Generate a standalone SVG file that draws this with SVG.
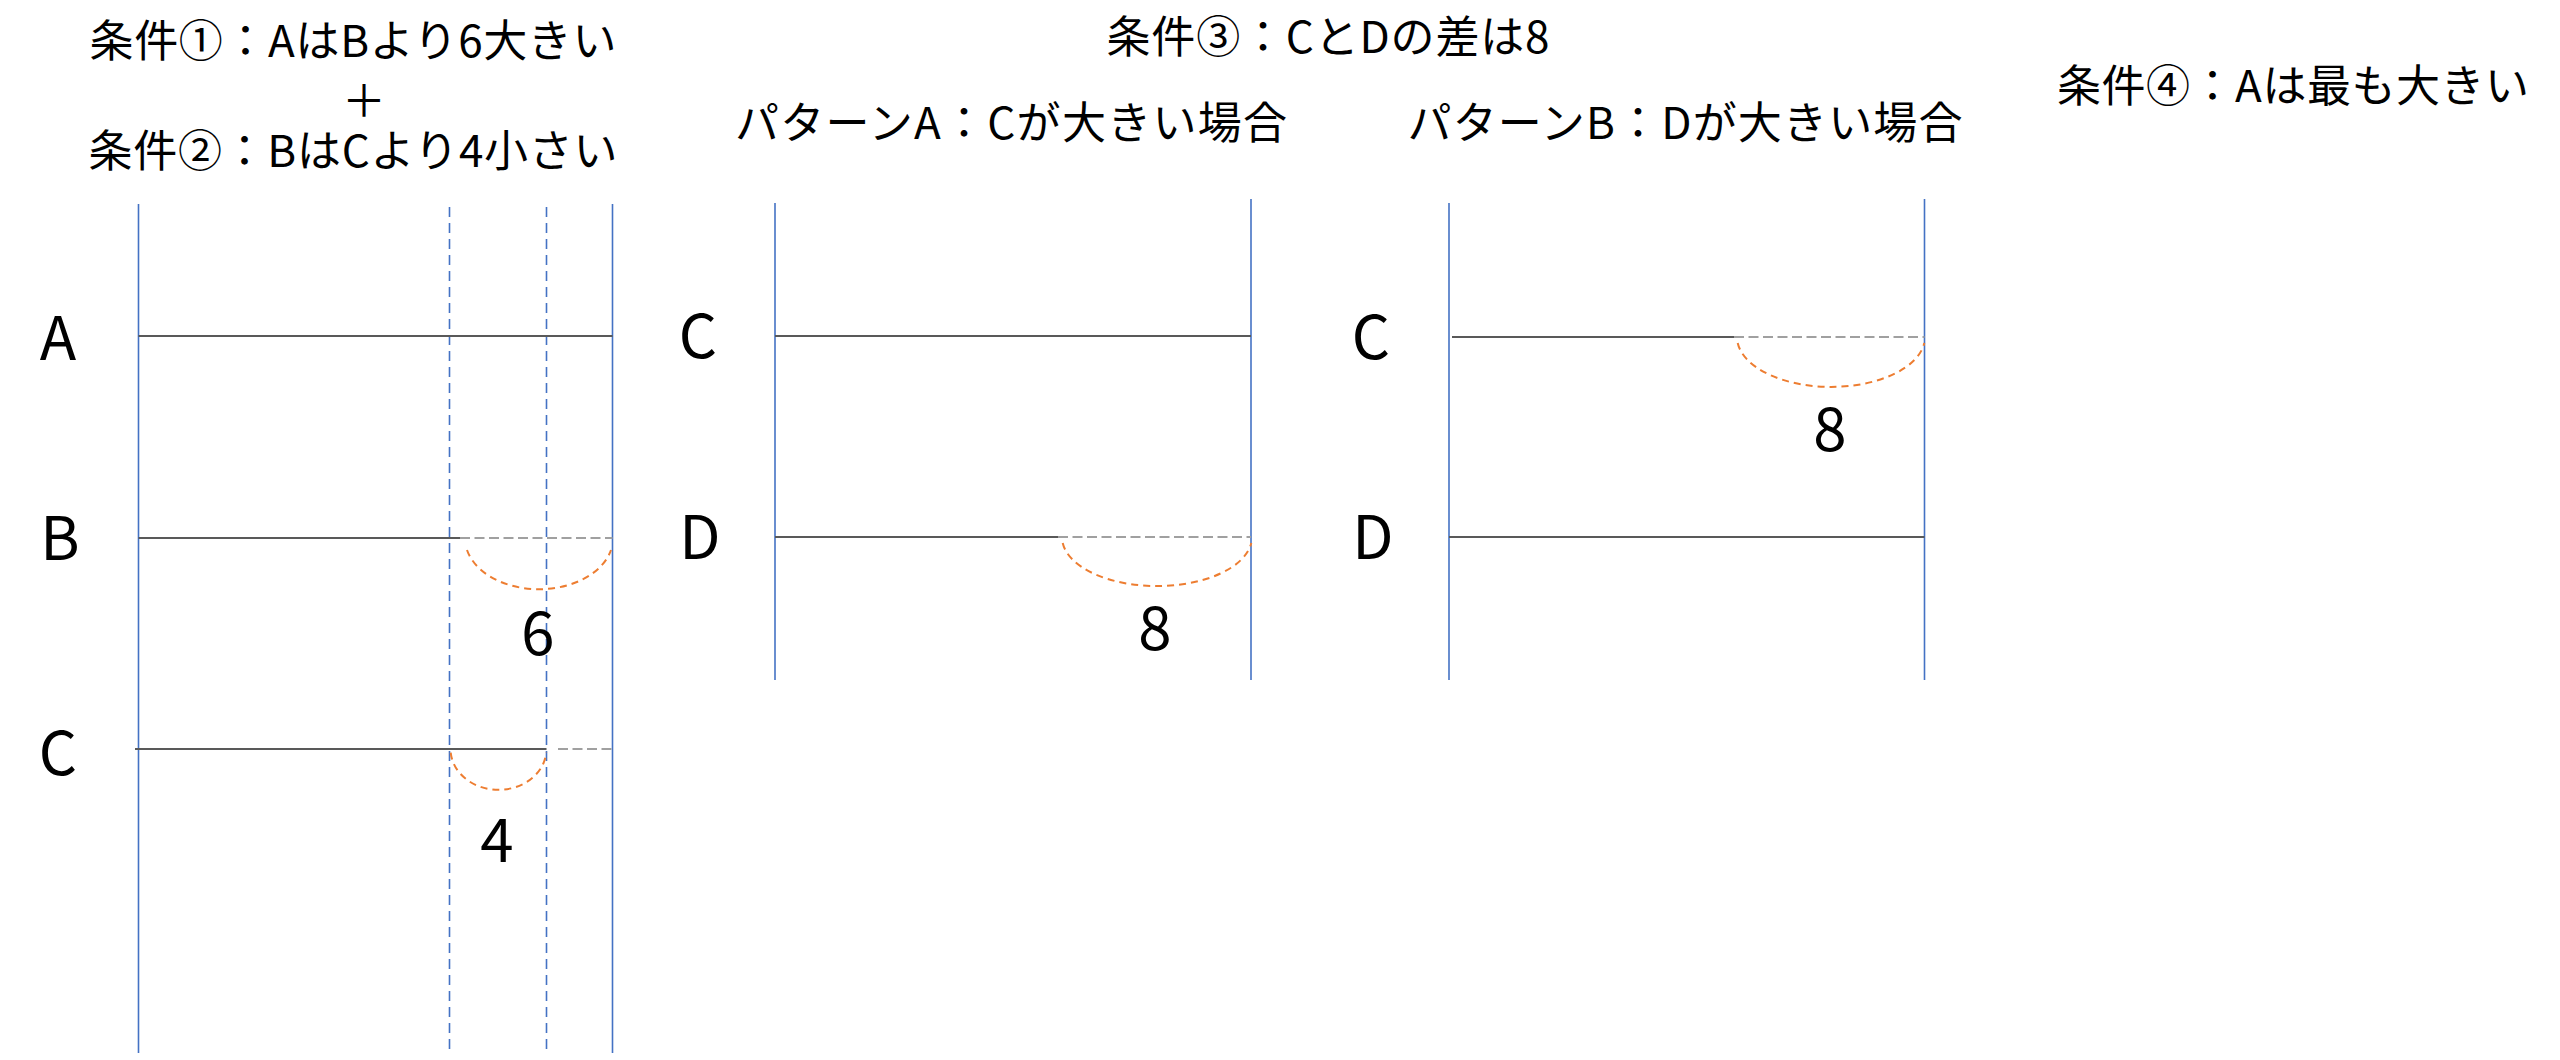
<svg xmlns="http://www.w3.org/2000/svg" width="2560" height="1060" viewBox="0 0 2560 1060">
<style>
  .t { font-family: "Noto Sans CJK JP", "Noto Sans", sans-serif; fill: #000; text-anchor: middle; }
  .title { font-size: 44px; }
  .lbl { font-size: 60px; }
  .axis { stroke: #4472C4; stroke-width: 1.6; fill: none; }
  .guide { stroke: #4472C4; stroke-width: 1.6; stroke-dasharray: 10 6; fill: none; }
  .bar { stroke: #595959; stroke-width: 2.2; fill: none; }
  .ext { stroke: #A0A0A0; stroke-width: 2; stroke-dasharray: 10 4.5; fill: none; }
  .diff { stroke: #ED7D31; stroke-width: 2; stroke-dasharray: 7 5; fill: none; }
</style>
<rect x="0" y="0" width="2560" height="1060" fill="#FFFFFF"/>

<g id="titles">
  <text id="cond12" class="t title"><tspan x="353" y="57" textLength="527" lengthAdjust="spacing">条件①：AはBより6大きい</tspan><tspan x="364" y="117">＋</tspan><tspan x="353" y="167" textLength="529" lengthAdjust="spacing">条件②：BはCより4小さい</tspan></text>
  <text id="cond3" class="t title" x="1328" y="53" textLength="443" lengthAdjust="spacing">条件③：CとDの差は8</text>
  <text id="patA-title" class="t title" x="1011" y="139" textLength="552" lengthAdjust="spacing">パターンA：Cが大きい場合</text>
  <text id="patB-title" class="t title" x="1685" y="139" textLength="555" lengthAdjust="spacing">パターンB：Dが大きい場合</text>
  <text id="cond4" class="t title" x="2293" y="102" textLength="472" lengthAdjust="spacing">条件④：Aは最も大きい</text>
</g>

<g id="connectors">
  <!-- left panel -->
  <line class="axis" x1="138.5" y1="204" x2="138.5" y2="1053"/>
  <line class="axis" x1="612.5" y1="204" x2="612.5" y2="1053"/>
  <line class="guide" x1="449.5" y1="207" x2="449.5" y2="1053"/>
  <line class="guide" x1="546.5" y1="207" x2="546.5" y2="1053"/>
  <line class="bar" x1="138.5" y1="336" x2="612.5" y2="336"/>
  <line class="bar" x1="138.5" y1="538" x2="460" y2="538"/>
  <line class="ext" x1="460" y1="538" x2="612.5" y2="538"/>
  <line class="bar" x1="135" y1="749" x2="546.5" y2="749"/>
  <line class="ext" x1="558" y1="749" x2="612" y2="749"/>
  <path class="diff" d="M467 550 A74 51 0 0 0 611 550"/>
  <path class="diff" d="M450.7 752.6 A48 41 0 0 0 546.3 752.6"/>

  <!-- pattern A -->
  <line class="axis" x1="775" y1="203" x2="775" y2="680"/>
  <line class="axis" x1="1251" y1="199" x2="1251" y2="680"/>
  <line class="bar" x1="775" y1="336" x2="1251" y2="336"/>
  <line class="bar" x1="775" y1="537" x2="1058" y2="537"/>
  <line class="ext" x1="1058" y1="537" x2="1251" y2="537"/>
  <path class="diff" d="M1062.7 543 A95 49 0 0 0 1251.3 543"/>

  <!-- pattern B -->
  <line class="axis" x1="1449" y1="203" x2="1449" y2="680"/>
  <line class="axis" x1="1924.5" y1="199" x2="1924.5" y2="680"/>
  <line class="bar" x1="1452" y1="337" x2="1734" y2="337"/>
  <line class="ext" x1="1734" y1="337" x2="1924.5" y2="337"/>
  <line class="bar" x1="1449" y1="537" x2="1924.5" y2="537"/>
  <path class="diff" d="M1737.7 343 A94 50 0 0 0 1924.3 343"/>
</g>

<g id="panel-left">
  <text id="left-A" class="t lbl" x="58" y="360">A</text>
  <text id="left-B" class="t lbl" x="60" y="560">B</text>
  <text id="left-C" class="t lbl" x="58" y="775">C</text>
  <text id="left-6" class="t lbl" x="538" y="655">6</text>
  <text id="left-4" class="t lbl" x="497" y="862">4</text>
</g>

<g id="panel-patA">
  <text id="patA-C" class="t lbl" x="698" y="358">C</text>
  <text id="patA-D" class="t lbl" x="700" y="559">D</text>
  <text id="patA-8" class="t lbl" x="1155" y="650">8</text>
</g>

<g id="panel-patB">
  <text id="patB-C" class="t lbl" x="1371" y="359">C</text>
  <text id="patB-D" class="t lbl" x="1373" y="559">D</text>
  <text id="patB-8" class="t lbl" x="1830" y="451">8</text>
</g>
</svg>
